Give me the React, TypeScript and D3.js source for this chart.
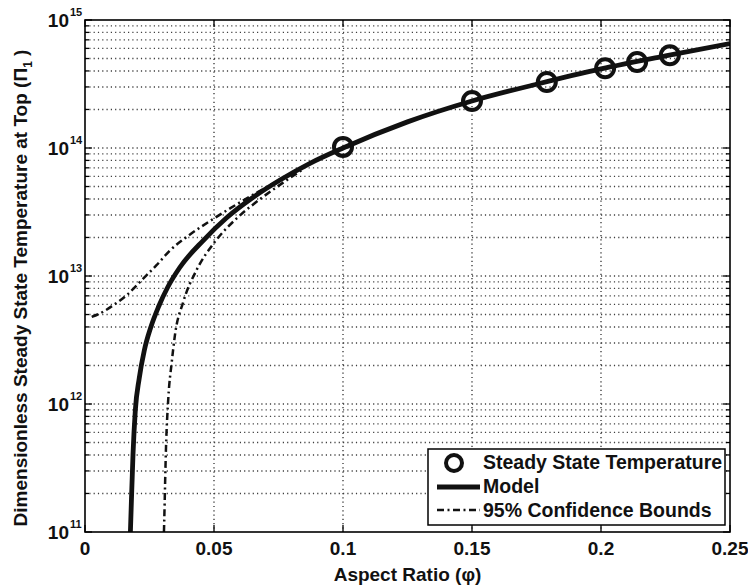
import React from "react";
import * as d3 from "d3";

// ---- data ----
const xTickValues = [0, 0.05, 0.1, 0.15, 0.2, 0.25];
const xTickLabels = ["0", "0.05", "0.1", "0.15", "0.2", "0.25"];
const yExponents = [11, 12, 13, 14, 15];

const modelPhi = [0.0176, 0.018, 0.0186, 0.0195, 0.021, 0.023, 0.0255, 0.0285, 0.032, 0.0368, 0.0459, 0.0549, 0.0652, 0.0756, 0.0872, 0.1, 0.125, 0.15, 0.175, 0.2, 0.225, 0.25];
const modelValue = [1.0e11, 1.78e11, 4.0e11, 8.9e11, 1.58e12, 2.63e12, 3.98e12, 5.75e12, 8.13e12, 1.17e13, 1.9e13, 2.85e13, 4.12e13, 5.62e13, 7.59e13, 1.0e14, 1.6e14, 2.33e14, 3.15e14, 4.15e14, 5.25e14, 6.55e14];

const upperPhi = [0.0026, 0.0058, 0.0109, 0.0162, 0.022, 0.0278, 0.0329, 0.0407, 0.0497, 0.0588, 0.0665, 0.075, 0.085];
const upperValue = [4.8e12, 5.1e12, 5.9e12, 7.1e12, 9.3e12, 1.22e13, 1.58e13, 2.11e13, 2.79e13, 3.63e13, 4.47e13, 5.56e13, 7.24e13];

const lowerPhi = [0.0306, 0.0307, 0.0314, 0.0323, 0.0336, 0.0349, 0.038, 0.0433, 0.0497, 0.0588, 0.0665, 0.0743, 0.085];
const lowerValue = [1.0e11, 1.2e11, 4.6e11, 1.12e12, 2.1e12, 3.5e12, 6.2e12, 1.12e13, 1.78e13, 2.82e13, 3.8e13, 4.95e13, 6.92e13];

const obsPhi = [0.1, 0.15, 0.179, 0.2016, 0.214, 0.2267];
const obsValue = [1.02e14, 2.33e14, 3.28e14, 4.2e14, 4.7e14, 5.3e14];

const legendLabels = ["Steady State Temperature", "Model", "95% Confidence Bounds"];

// ---- layout ----
const W = 748;
const H = 585;
const L = 85, R = 730, T = 20, B = 532;
const FONT = "'Liberation Sans', Arial, Helvetica, sans-serif";

export default function App() {
  const x = d3.scaleLinear().domain([0, 0.25]).range([L, R]);
  const y = d3.scaleLog().domain([1e11, 1e15]).range([B, T]);

  const line = d3
    .line<[number, number]>()
    .x((d) => x(d[0]))
    .y((d) => y(d[1]))
    .curve(d3.curveMonotoneX);

  const modelPts = modelPhi.map((p, i) => [p, modelValue[i]] as [number, number]);
  const upperPts = upperPhi.map((p, i) => [p, upperValue[i]] as [number, number]);
  const lowerPts = lowerPhi.map((p, i) => [p, lowerValue[i]] as [number, number]);

  const minorY: number[] = [];
  for (let e = 11; e < 15; e++) {
    for (let m = 2; m <= 9; m++) minorY.push(m * Math.pow(10, e));
  }
  const majorY = yExponents.map((e) => Math.pow(10, e));

  const gridStyle = { stroke: "#000", strokeWidth: 1.4, strokeDasharray: "1.2 3.1" };
  const dashDot = "7 3.5 2 3.5";

  return (
    <svg width={W} height={H} style={{ display: "block", position: "absolute", left: 0, top: 0 }} fontFamily={FONT} fontWeight="bold">
      <defs>
        <clipPath id="plotClip">
          <rect x={L} y={T} width={R - L} height={B - T} />
        </clipPath>
      </defs>
      <rect x={0} y={0} width={W} height={H} fill="#fff" />

      {/* grid */}
      <g opacity={0.75}>
        {[...minorY, ...majorY.slice(1, -1)].map((v, i) => (
          <line key={"gy" + i} x1={L} x2={R} y1={y(v)} y2={y(v)} {...gridStyle} />
        ))}
        {xTickValues.slice(1, -1).map((v, i) => (
          <line key={"gx" + i} x1={x(v)} x2={x(v)} y1={T} y2={B} {...gridStyle} />
        ))}
      </g>

      {/* ticks */}
      <g stroke="#000" strokeWidth={1.3}>
        {majorY.map((v, i) => (
          <g key={"my" + i}>
            <line x1={L} x2={L + 7} y1={y(v)} y2={y(v)} />
            <line x1={R} x2={R - 7} y1={y(v)} y2={y(v)} />
          </g>
        ))}
        {minorY.map((v, i) => (
          <g key={"ny" + i}>
            <line x1={L} x2={L + 4} y1={y(v)} y2={y(v)} />
            <line x1={R} x2={R - 4} y1={y(v)} y2={y(v)} />
          </g>
        ))}
        {xTickValues.map((v, i) => (
          <g key={"tx" + i}>
            <line x1={x(v)} x2={x(v)} y1={B} y2={B - 7} />
            <line x1={x(v)} x2={x(v)} y1={T} y2={T + 7} />
          </g>
        ))}
      </g>

      {/* curves */}
      <g clipPath="url(#plotClip)" fill="none">
        <path d={line(upperPts) || ""} stroke="#111" strokeWidth={2.5} strokeDasharray={dashDot} />
        <path d={line(lowerPts) || ""} stroke="#111" strokeWidth={2.5} strokeDasharray={dashDot} />
        <path d={line(modelPts) || ""} stroke="#111" strokeWidth={4.8} />
        {obsPhi.map((p, i) => (
          <circle key={"o" + i} cx={x(p)} cy={y(obsValue[i])} r={9} stroke="#111" strokeWidth={4} fill="none" />
        ))}
      </g>

      {/* frame */}
      <rect x={L} y={T} width={R - L} height={B - T} fill="none" stroke="#000" strokeWidth={1.6} />

      {/* x tick labels */}
      {xTickValues.map((v, i) => (
        <text key={"xl" + i} x={x(v)} y={555} textAnchor="middle" fontSize={19} fill="#111">
          {xTickLabels[i]}
        </text>
      ))}

      {/* y tick labels */}
      {yExponents.map((e, i) => {
        const yy = y(Math.pow(10, e));
        return (
          <g key={"yl" + i} fill="#111">
            <text x={69} y={yy + 7} textAnchor="end" fontSize={19}>10</text>
            <text x={70} y={yy - 4} textAnchor="start" fontSize={11}>{String(e)}</text>
          </g>
        );
      })}

      {/* axis titles */}
      <text x={(L + R) / 2} y={581} textAnchor="middle" fontSize={19} fill="#111">
        Aspect Ratio (φ)
      </text>
      <text transform={`translate(27,${(T + B) / 2 + 12}) rotate(-90)`} textAnchor="middle" fontSize={19} fill="#111">
        Dimensionless Steady State Temperature at Top (Π
        <tspan fontSize={12} dy={5}>1</tspan>
        <tspan dy={-5}> )</tspan>
      </text>

      {/* legend */}
      <g>
        <rect x={428} y={449} width={297} height={76} fill="#fff" stroke="#000" strokeWidth={1.5} />
        <circle cx={454} cy={463} r={8} fill="none" stroke="#111" strokeWidth={4} />
        <line x1={437} x2={480} y1={487} y2={487} stroke="#111" strokeWidth={4.8} />
        <line x1={437} x2={480} y1={510} y2={510} stroke="#111" strokeWidth={2.5} strokeDasharray={dashDot} />
        {legendLabels.map((t, i) => (
          <text key={"lg" + i} x={483} y={469 + i * 24} fontSize={19.5} fill="#111">
            {t}
          </text>
        ))}
      </g>
    </svg>
  );
}
